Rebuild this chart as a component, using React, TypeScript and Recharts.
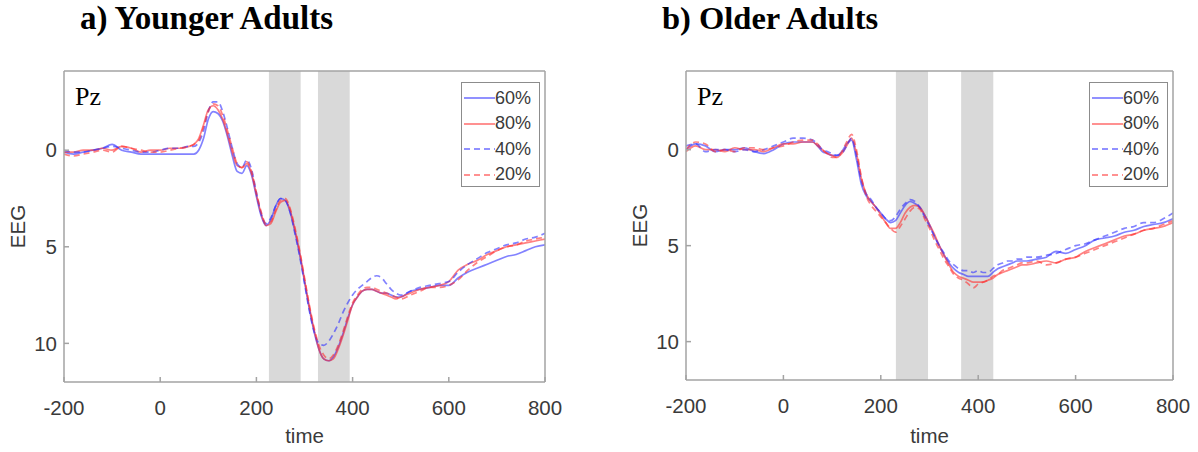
import React from "react";
import { LineChart, Line, XAxis, YAxis, ReferenceArea } from "recharts";

// sample times (ms): coarse in baseline/late window, 10 ms around the components
const times = [
  -200, -180, -160, -140, -120, -100, -80, -60, -40, -20, 0, 20, 40, 60,
  70, 80, 90, 100, 110, 120, 130, 140, 150, 160, 170, 180, 190, 200, 210, 220,
  230, 240, 250, 260, 270, 280, 290, 300, 310, 320, 330, 340, 350, 360, 370,
  380, 390, 400, 410, 420, 430, 440, 450, 460, 470, 480, 490, 500,
  520, 540, 560, 580, 600, 620, 640, 660, 680, 700, 720, 740, 760, 780, 800,
];

// Younger adults, Pz
const young60 = [
  0.1, 0.2, 0.1, 0.0, -0.1, -0.3, 0.0, 0.1, 0.2, 0.2, 0.2, 0.2, 0.2, 0.2,
  0.2, 0.0, -0.6, -1.6, -2.0, -1.9, -1.5, -0.7, 0.3, 1.1, 1.2, 0.8, 1.3, 2.4, 3.4, 3.9,
  3.6, 2.9, 2.5, 2.6, 3.2, 4.2, 5.4, 6.8, 8.2, 9.4, 10.3, 10.8, 10.9, 10.7, 10.2,
  9.5, 8.7, 8.0, 7.6, 7.3, 7.2, 7.2, 7.3, 7.4, 7.4, 7.5, 7.6, 7.6,
  7.3, 7.2, 7.1, 7.0, 7.0, 6.6, 6.3, 6.1, 5.9, 5.7, 5.5, 5.4, 5.2, 5.0, 4.9,
];
const young80 = [
  0.1, 0.1, 0.0, 0.0, -0.1, 0.0, -0.2, -0.1, 0.1, 0.0, 0.0, -0.1, -0.1, -0.2,
  -0.3, -0.6, -1.3, -2.1, -2.3, -2.1, -1.6, -0.8, 0.1, 0.8, 0.9, 0.7, 1.2, 2.3, 3.3, 3.9,
  3.8, 3.2, 2.7, 2.6, 3.1, 4.1, 5.3, 6.7, 8.1, 9.3, 10.3, 10.8, 10.9, 10.8, 10.3,
  9.6, 8.8, 8.0, 7.6, 7.3, 7.2, 7.2, 7.3, 7.4, 7.5, 7.6, 7.7, 7.6,
  7.4, 7.2, 7.1, 7.0, 6.8, 6.2, 5.9, 5.7, 5.4, 5.2, 5.0, 4.9, 4.8, 4.7, 4.6,
];
const young40 = [
  0.0, 0.1, 0.1, 0.0, -0.1, -0.2, -0.1, 0.0, 0.1, 0.1, 0.0, -0.1, -0.1, -0.2,
  -0.2, -0.4, -1.0, -2.0, -2.5, -2.5, -2.0, -1.1, -0.1, 0.7, 0.9, 0.5, 1.0, 2.2, 3.3, 3.8,
  3.5, 2.9, 2.5, 2.6, 3.2, 4.3, 5.5, 6.9, 8.3, 9.4, 10.0, 10.1, 9.9, 9.5, 9.0,
  8.4, 7.9, 7.5, 7.2, 7.0, 6.8, 6.6, 6.5, 6.6, 6.9, 7.2, 7.4, 7.5,
  7.3, 7.1, 7.0, 6.9, 6.8, 6.3, 5.9, 5.6, 5.3, 5.1, 4.9, 4.8, 4.6, 4.5, 4.3,
];
const young20 = [
  0.2, 0.3, 0.2, 0.1, 0.0, 0.1, -0.2, -0.1, 0.0, 0.1, 0.1, 0.0, -0.1, -0.2,
  -0.3, -0.5, -1.2, -2.0, -2.4, -2.3, -1.8, -1.0, -0.1, 0.7, 0.9, 0.6, 1.1, 2.2, 3.2, 3.8,
  3.7, 3.1, 2.6, 2.5, 3.0, 4.0, 5.2, 6.6, 8.0, 9.2, 10.1, 10.6, 10.8, 10.6, 10.1,
  9.4, 8.6, 7.9, 7.5, 7.2, 7.1, 7.1, 7.2, 7.3, 7.4, 7.5, 7.6, 7.7,
  7.5, 7.3, 7.1, 7.1, 7.0, 6.7, 6.2, 5.8, 5.5, 5.2, 5.0, 4.9, 4.7, 4.6, 4.5,
];

// Older adults, Pz
const older60 = [
  0.0, -0.3, -0.2, 0.1, 0.0, 0.0, -0.1, 0.1, 0.2, 0.0, -0.3, -0.4, -0.4, -0.4,
  -0.2, 0.1, 0.2, 0.3, 0.3, 0.1, -0.3, -0.5, 0.5, 1.8, 2.4, 2.7, 3.0, 3.3, 3.6, 3.8,
  3.7, 3.3, 2.9, 2.7, 2.8, 3.0, 3.4, 3.9, 4.5, 5.0, 5.5, 5.9, 6.2, 6.4, 6.5,
  6.6, 6.6, 6.6, 6.6, 6.6, 6.4, 6.2, 6.1, 6.0, 5.9, 5.8, 5.8, 5.8,
  5.7, 5.6, 5.3, 5.4, 5.2, 5.0, 4.7, 4.6, 4.5, 4.3, 4.2, 4.0, 3.9, 3.8, 3.6,
];
const older80 = [
  0.1, -0.2, 0.0, 0.0, 0.1, -0.1, 0.0, 0.0, 0.1, -0.1, -0.3, -0.3, -0.4, -0.4,
  -0.2, 0.0, 0.2, 0.3, 0.4, 0.2, -0.2, -0.6, 0.2, 1.5, 2.3, 2.7, 3.0, 3.4, 3.8, 4.1,
  4.1, 3.8, 3.3, 3.0, 2.9, 3.0, 3.4, 3.9, 4.4, 5.0, 5.5, 6.0, 6.4, 6.6, 6.7,
  6.8, 6.9, 6.9, 6.9, 6.8, 6.7, 6.5, 6.4, 6.3, 6.2, 6.1, 6.0, 6.0,
  5.9, 5.8, 5.9, 5.7, 5.6, 5.3, 5.1, 4.9, 4.7, 4.5, 4.4, 4.2, 4.1, 4.0, 3.8,
];
const older40 = [
  -0.2, -0.3, 0.1, 0.0, 0.0, 0.1, 0.0, 0.1, 0.0, -0.2, -0.4, -0.6, -0.6, -0.5,
  -0.3, 0.0, 0.1, 0.2, 0.3, 0.2, -0.2, -0.6, 0.3, 1.6, 2.3, 2.6, 3.0, 3.3, 3.6, 3.7,
  3.5, 3.1, 2.8, 2.6, 2.7, 3.0, 3.5, 4.0, 4.5, 5.0, 5.4, 5.8, 6.0, 6.2, 6.3,
  6.3, 6.4, 6.3, 6.4, 6.4, 6.2, 6.0, 5.9, 5.8, 5.8, 5.7, 5.7, 5.6,
  5.6, 5.5, 5.4, 5.2, 5.0, 4.9, 4.7, 4.5, 4.3, 4.1, 4.0, 3.8, 3.8, 3.6, 3.3,
];
const older20 = [
  0.0, -0.4, -0.3, 0.1, 0.0, 0.1, -0.1, -0.1, 0.0, -0.1, -0.2, -0.4, -0.5, -0.5,
  -0.3, 0.0, 0.2, 0.4, 0.4, 0.1, -0.4, -0.8, 0.0, 1.4, 2.4, 2.9, 3.2, 3.5, 3.8, 4.1,
  4.3, 4.0, 3.6, 3.2, 3.0, 3.1, 3.6, 4.1, 4.7, 5.2, 5.7, 6.1, 6.5, 6.7, 6.8,
  7.0, 7.2, 7.0, 6.9, 6.8, 6.6, 6.5, 6.3, 6.2, 6.1, 6.0, 5.9, 5.9,
  5.8, 6.0, 5.9, 5.7, 5.6, 5.4, 5.2, 5.0, 4.8, 4.6, 4.4, 4.2, 4.1, 3.9, 3.7,
];

const xTicks = [-200, 0, 200, 400, 600, 800];
const yTicks = [0, 5, 10];
const yDomain = [-4.1, 12];

// analysis windows (ms) shaded grey
const youngWindows = [[226, 292], [328, 394]];
const olderWindows = [[231, 297], [365, 431]];

const BLUE = "#2f2fff";
const RED = "#ff2f2f";
const AXIS = "#a3a3a3";
const TEXT = "#3a3a3a";
const SANS = "'Liberation Sans', Arial, sans-serif";
const SERIF = "'Liberation Serif', 'Times New Roman', serif";

const series = [
  { key: "p60", name: "60%", color: BLUE, dash: undefined },
  { key: "p80", name: "80%", color: RED, dash: undefined },
  { key: "p40", name: "40%", color: BLUE, dash: "6 4" },
  { key: "p20", name: "20%", color: RED, dash: "6 4" },
];

function toRows(p60: number[], p80: number[], p40: number[], p20: number[]) {
  return times.map((t, i) => ({ time: t, p60: p60[i], p80: p80[i], p40: p40[i], p20: p20[i] }));
}

const youngRows = toRows(young60, young80, young40, young20);
const olderRows = toRows(older60, older80, older40, older20);

function LegendBox({ left, top }: { left: number; top: number }) {
  return (
    <div
      style={{
        position: "absolute",
        left,
        top,
        width: 79,
        height: 105,
        border: "1.5px solid #8c8c8c",
        background: "#fff",
        boxSizing: "border-box",
        fontFamily: SANS,
        fontSize: 18,
        color: TEXT,
      }}
    >
      {series.map((s, i) => (
        <div key={s.key} style={{ position: "absolute", left: 2, top: 3 + i * 25.5, height: 24, display: "flex", alignItems: "center" }}>
          <svg width={31} height={10}>
            <line x1={0} y1={5} x2={31} y2={5} stroke={s.color} strokeOpacity={0.7} strokeWidth={1.5} strokeDasharray={s.dash} />
          </svg>
          <span>{s.name}</span>
        </div>
      ))}
    </div>
  );
}

interface PanelProps {
  left: number;
  width: number;
  rightMargin: number;
  xAxisHeight: number;
  rows: { time: number }[];
  windows: number[][];
}

function ErpPanel({ left, width, rightMargin, xAxisHeight, rows, windows }: PanelProps) {
  return (
    <div style={{ position: "absolute", left, top: 0 }}>
      <LineChart width={width} height={452} data={rows} margin={{ top: 70, right: rightMargin - 1, bottom: 0, left: 0 }}>
        <XAxis
          dataKey="time"
          type="number"
          domain={[-200, 800]}
          ticks={xTicks}
          allowDataOverflow
          height={xAxisHeight}
          stroke={AXIS}
          strokeWidth={1.5}
          tickSize={-5}
          tickMargin={23}
          tick={{ fill: TEXT, fontSize: 20.5, fontFamily: SANS }}
          label={{ value: "time", position: "insideBottom", offset: 9, fill: TEXT, fontSize: 20.5, fontFamily: SANS }}
        />
        {/* top and right axes close the box and repeat the tick marks */}
        <XAxis
          xAxisId="top"
          dataKey="time"
          orientation="top"
          type="number"
          domain={[-200, 800]}
          ticks={xTicks}
          allowDataOverflow
          height={1}
          stroke={AXIS}
          strokeWidth={1.5}
          tickSize={-5}
          tick={false}
        />
        <YAxis
          type="number"
          reversed
          domain={yDomain}
          ticks={yTicks}
          allowDataOverflow
          width={64}
          stroke={AXIS}
          strokeWidth={1.5}
          tickSize={-5}
          tickMargin={12}
          tick={{ fill: TEXT, fontSize: 20.5, fontFamily: SANS }}
          label={{ value: "EEG", angle: -90, position: "insideLeft", offset: 18, fill: TEXT, fontSize: 20.5, fontFamily: SANS, style: { textAnchor: "middle" } }}
        />
        <YAxis
          yAxisId="right"
          orientation="right"
          type="number"
          reversed
          domain={yDomain}
          ticks={yTicks}
          allowDataOverflow
          width={1}
          stroke={AXIS}
          strokeWidth={1.5}
          tickSize={-5}
          tick={false}
        />
        {windows.map(([a, b]) => (
          <ReferenceArea key={a} xAxisId="top" yAxisId="right" x1={a} x2={b} fill="#d9d9d9" fillOpacity={1} stroke="none" />
        ))}
        {series.map((s) => (
          <Line
            key={s.key}
            dataKey={s.key}
            name={s.name}
            type="monotone"
            stroke={s.color}
            strokeOpacity={0.6}
            strokeWidth={1.7}
            strokeDasharray={s.dash}
            dot={false}
            isAnimationActive={false}
          />
        ))}
      </LineChart>
    </div>
  );
}

const titleStyle: React.CSSProperties = {
  position: "absolute",
  top: 0,
  fontFamily: SERIF,
  fontWeight: "bold",
  fontSize: 33,
  color: "#000",
  whiteSpace: "nowrap",
};

const pzStyle: React.CSSProperties = {
  position: "absolute",
  top: 82,
  fontFamily: SERIF,
  fontSize: 26,
  color: "#000",
};

export default function App() {
  return (
    <div style={{ position: "absolute", left: 0, top: 0, width: 1198, height: 452, overflow: "hidden", background: "#fff" }}>
      <div style={{ ...titleStyle, left: 80 }}>a) Younger Adults</div>
      <div style={{ ...titleStyle, left: 662, fontSize: 32.5 }}>b) Older Adults</div>
      <ErpPanel left={0} width={600} rightMargin={55} xAxisHeight={70} rows={youngRows} windows={youngWindows} />
      <ErpPanel left={622} width={576} rightMargin={25} xAxisHeight={72} rows={olderRows} windows={olderWindows} />
      <div style={{ ...pzStyle, left: 75 }}>Pz</div>
      <div style={{ ...pzStyle, left: 697 }}>Pz</div>
      <LegendBox left={461} top={82} />
      <LegendBox left={1089} top={82} />
    </div>
  );
}
